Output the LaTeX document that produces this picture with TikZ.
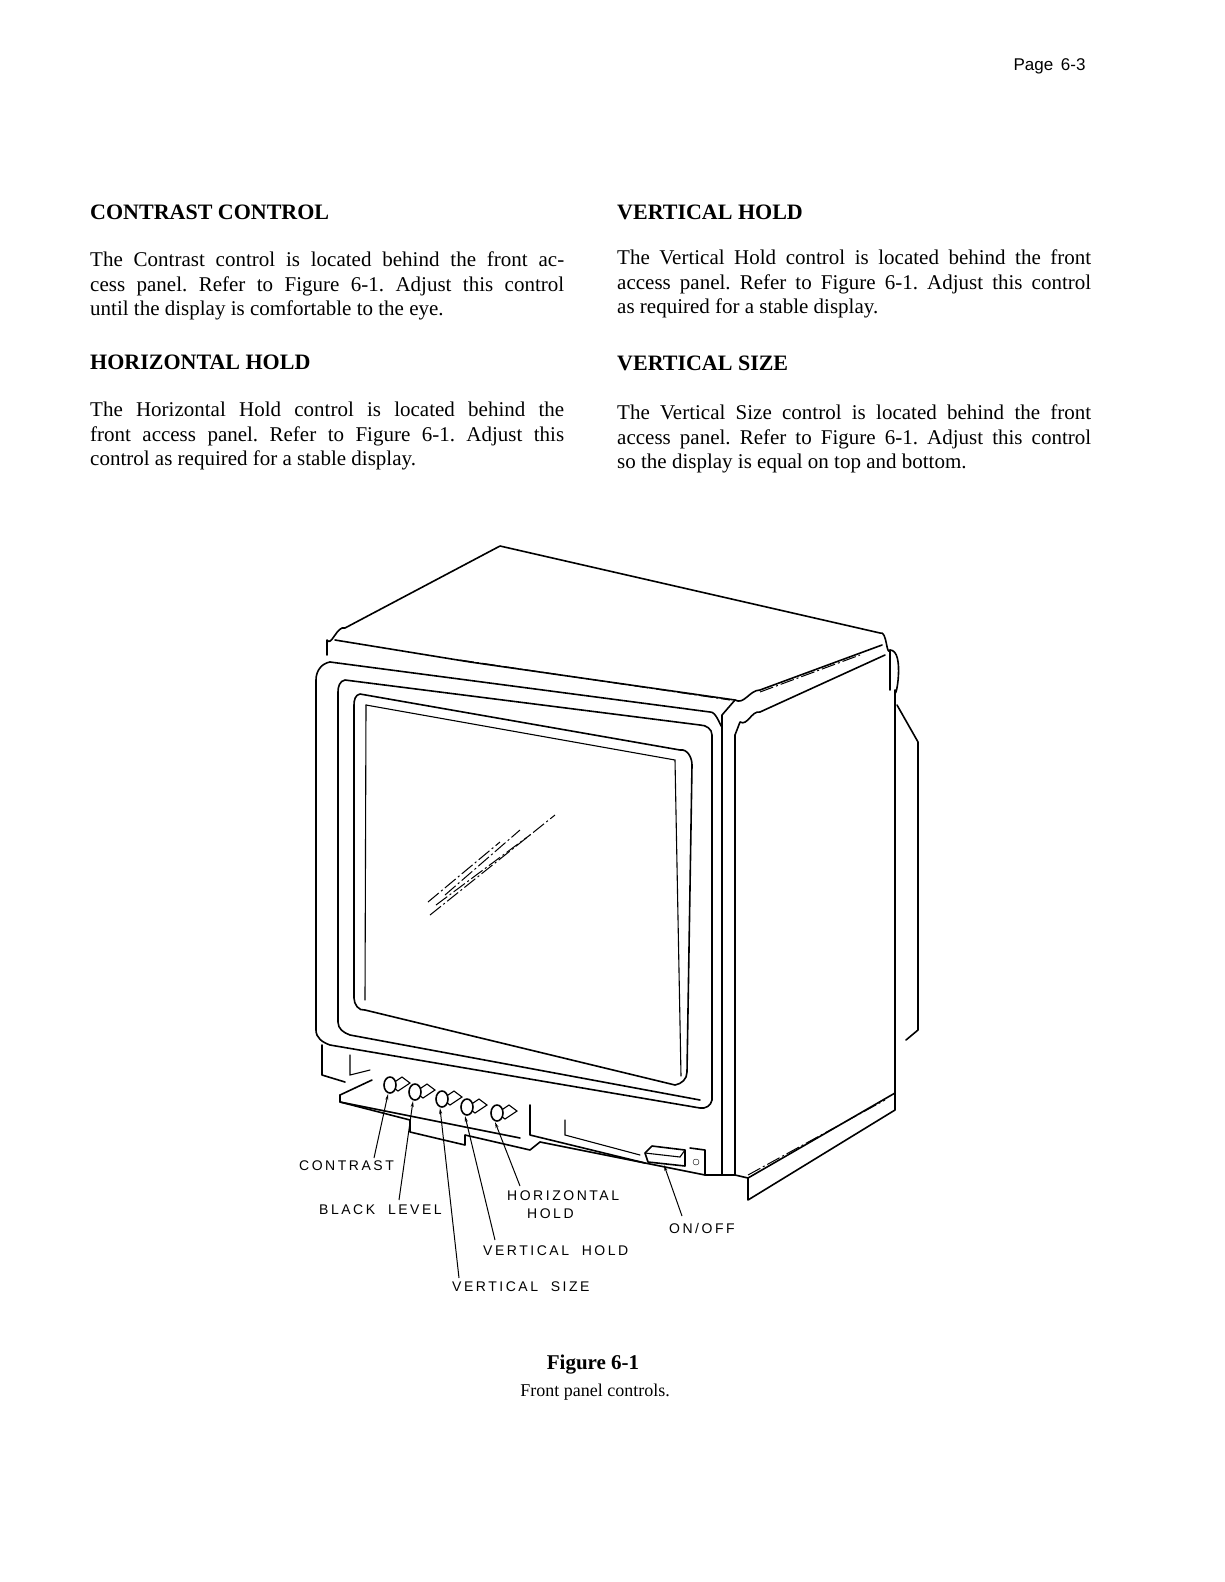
\documentclass[tikz,border=0pt]{standalone}
\usetikzlibrary{arrows.meta}
\usepackage{fontspec}
\setmainfont{Liberation Serif}
\newfontfamily\lab[LetterSpace=18,WordSpace=2]{Liberation Sans}
\newfontfamily\pg{Liberation Sans}
\frenchspacing
\begin{document}
\begin{tikzpicture}[x=1pt,y=-1pt,
 body/.style={anchor=north west,inner sep=0,text width=474pt,align=justify,font=\fontsize{21}{24.5}\selectfont},
 head/.style={anchor=west,inner sep=0,font=\fontsize{22}{24}\selectfont\bfseries},
 lbl/.style={inner sep=1pt,font=\lab\fontsize{14}{16}\selectfont},
 ln/.style={line width=1.6pt,line join=round,line cap=round},
 thin/.style={line width=1.1pt,line cap=round},
 dl/.style={line width=1pt,dash pattern=on 14pt off 3pt on 2pt off 3pt},
 lead/.style={line width=1pt,-{Stealth[length=6pt,width=3pt]}}]
\useasboundingbox (0,0) rectangle (1224,1582);
\node[anchor=east,font=\pg\fontsize{17}{20}\selectfont] (pg) at (1089,66) {Page\, 6-3};
\node[head] (h1) at (90,212) {CONTRAST CONTROL};
\node[head] (h2) at (617,212) {VERTICAL HOLD};
\node[head] (h3) at (90,362) {HORIZONTAL HOLD};
\node[head] (h4) at (617,363) {VERTICAL SIZE};
\node[body] (t1) at (90,252) {The Contrast control is located behind the front ac-\linebreak cess panel. Refer to Figure 6-1. Adjust this control\linebreak until the display is comfortable to the eye.};
\node[body] (t2) at (617,250) {The Vertical Hold control is located behind the front\linebreak access panel. Refer to Figure 6-1. Adjust this control\linebreak as required for a stable display.};
\node[body] (t3) at (90,402) {The Horizontal Hold control is located behind the\linebreak front access panel. Refer to Figure 6-1. Adjust this\linebreak control as required for a stable display.};
\node[body] (t4) at (617,405) {The Vertical Size control is located behind the front\linebreak access panel. Refer to Figure 6-1. Adjust this control\linebreak so the display is equal on top and bottom.};
% cabinet top
\draw[ln] (327,655) -- (327,640) to[out=-60,in=160] (345,628) -- (500,546) -- (880,633) to[out=20,in=-120] (890,650) -- (890,690);
\draw[ln] (335,640) -- (470,662) -- (735,700) to[out=-30,in=180] (760,690) -- (882,645);
\draw[dl] (460,660) -- (730,700);
\draw[dl] (760,692) -- (860,655);
% side panel
\draw[ln] (735,700) -- (722,715) -- (722,1175);
\draw[ln] (735,735) -- (740,722) to[out=-30,in=170] (760,712) -- (885,655);
\draw[ln] (735,735) -- (735,1175) -- (748,1178) -- (895,1093) -- (895,690) to[out=-90,in=0] (890,650);
\draw[dl] (735,740) -- (735,1170);
\draw[dl] (748,1175) -- (885,1100);
\draw[ln] (895,1093) -- (895,1110) -- (748,1200) -- (748,1178);
\draw[dl] (748,1180) -- (748,1200);
% back bump
\draw[ln] (897,705) -- (918,742) -- (918,1030) -- (906,1040);
% front bezel
\draw[ln] (330,662) -- (710,712) to[out=10,in=-90] (722,725);
\draw[ln] (330,662) to[out=190,in=90] (316,680) -- (316,1030) to[out=-90,in=160] (330,1045) -- (700,1108) to[out=-10,in=-100] (712,1100) -- (712,735) to[out=90,in=0] (700,725) -- (345,680) to[out=190,in=90] (338,692) -- (338,1022) to[out=-90,in=160] (350,1035) -- (700,1100);
% screen
\draw[ln] (360,694) -- (680,750) to[out=10,in=90] (692,765) -- (687,1072) to[out=-90,in=10] (675,1085) -- (365,1010) to[out=190,in=-90] (354,998) -- (354,705) to[out=90,in=190] (360,694);
\draw[thin] (366,705) -- (675,760) -- (681,1076);
\draw[thin] (366,705) -- (365,1000);
% glare
\draw[dl] (430,915) -- (555,815);
\draw[dl] (436,905) -- (530,835);
\draw[dl] (445,895) -- (520,830);
\draw[dl] (428,902) -- (500,842);
% lower body
\draw[ln] (322,1045) -- (322,1075) -- (345,1082);
\draw[thin] (350,1055) -- (350,1075) -- (370,1070);
\draw[ln] (340,1095) -- (372,1080);
\draw[ln] (340,1095) -- (340,1102) -- (410,1120) -- (410,1132) -- (465,1145) -- (465,1135) -- (530,1150) -- (540,1142);
\draw[ln] (340,1102) -- (520,1138);
\draw[ln] (530,1105) -- (530,1135) -- (645,1163);
\draw[thin] (565,1120) -- (565,1135) -- (640,1155);
\draw[ln] (540,1142) -- (705,1175) -- (735,1175);
\draw[ln] (690,1148) -- (705,1150) -- (705,1175);
\draw (696,1162) circle (3pt);
% on/off
\coordinate (onoff) at (664,1165);
\draw[ln] (645,1153) -- (652,1146) -- (685,1150) -- (685,1166) -- (648,1162) -- cycle;
\draw[thin] (645,1153) -- (680,1157) -- (685,1150);
% knobs
\foreach \n/\x/\y in {k1/390/1085,k2/415/1092,k3/442/1099,k4/467/1107,k5/497/1113}{
 \draw[thin,fill=white] (\x,\y) -- ++(12,-8) -- ++(8,6) -- ++(-12,8) -- cycle;
 \draw[ln,fill=white] (\x,\y) ellipse (6pt and 8pt);
 \coordinate (\n) at (\x-2,\y+9);
}
% labels
\node[lbl,anchor=west] (c) at (298,1166) {CONTRAST};
\node[lbl,anchor=west] (b) at (318,1210) {BLACK LEVEL};
\node[lbl,anchor=west] (h) at (506,1196) {HORIZONTAL};
\node[lbl,anchor=west] (hh) at (526,1214) {HOLD};
\node[lbl,anchor=west] (o) at (668,1228) {ON/OFF};
\node[lbl,anchor=west] (vh) at (482,1251) {VERTICAL HOLD};
\node[lbl,anchor=west] (vs) at (451,1287) {VERTICAL SIZE};
\draw[lead] (374,1158) -- (k1);
\draw[lead] (399,1200) -- (k2);
\draw[lead] (459,1278) -- (k3);
\draw[lead] (495,1240) -- (k4);
\draw[lead] (520,1186) -- (k5);
\draw[lead] (682,1216) -- (onoff);
\node[font=\fontsize{21}{24}\selectfont\bfseries] (fig) at (593,1365) {Figure 6-1};
\node[font=\fontsize{18}{20}\selectfont] (cap) at (595,1392) {Front panel controls.};
\end{tikzpicture}
\end{document}
